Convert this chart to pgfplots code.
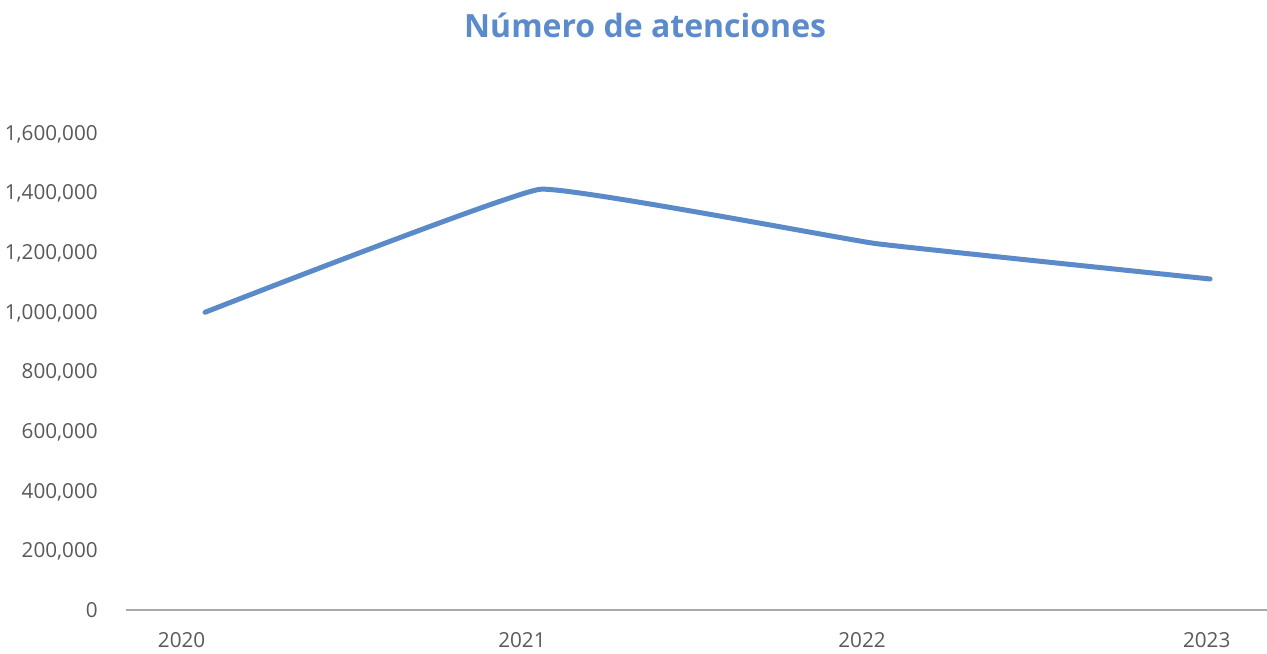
\documentclass[border=0pt]{standalone}
\usepackage{pgfplots}
\pgfplotsset{compat=1.18}
\usepackage{fontspec}
\setmainfont{Open Sans}
\definecolor{linecol}{RGB}{91,138,201}
\definecolor{titlecol}{RGB}{91,139,203}
\definecolor{ticktext}{RGB}{89,89,89}
\definecolor{axline}{RGB}{170,170,170}
\begin{document}
\begin{tikzpicture}
\begin{axis}[
  scale only axis,
  width=684.6pt, height=286.2pt,
  xmin=-0.236, xmax=3.170,
  ymin=0, ymax=1600000,
  axis x line*=bottom,
  axis y line*=left,
  y axis line style={draw=none},
  x axis line style={draw=axline, line width=0.9pt, -},
  xtick={-0.07,0.946,1.961,2.99},
  xticklabels={2020,2021,2022,2023},
  major tick length=0pt,
  ytick={0,200000,...,1600000},
  scaled y ticks=false,
  /pgf/number format/.cd, fixed, 1000 sep={,}, assume math mode=true,
  /pgfplots/.cd,
  ticklabel style={font=\fontsize{12.4pt}{14pt}\selectfont, text=ticktext, inner sep=0pt},
  xticklabel style={anchor=base, yshift=-22.8pt},
  yticklabel style={anchor=base east, xshift=-16.8pt, yshift=-4.4pt},
  clip=false,
]
\addplot[linecol, line width=3pt, line cap=round, line join=round, smooth, tension=0.15] coordinates {
  (0,998600) (1,1411200) (2,1229400) (3,1110300)
};
\coordinate (bl) at (rel axis cs:0,0);
\coordinate (tr) at (rel axis cs:1,1);
\node[anchor=base, inner sep=0pt, font=\fontsize{19.2pt}{24pt}\selectfont\bfseries, text=titlecol]
  at ([yshift=57.2pt]rel axis cs:0.455,1) {Número de atenciones};
\end{axis}
\pgfresetboundingbox
\path ([shift={(-75.6pt,-26.4pt)}]bl) rectangle ([yshift=79.8pt]tr);
\end{tikzpicture}
\end{document}
